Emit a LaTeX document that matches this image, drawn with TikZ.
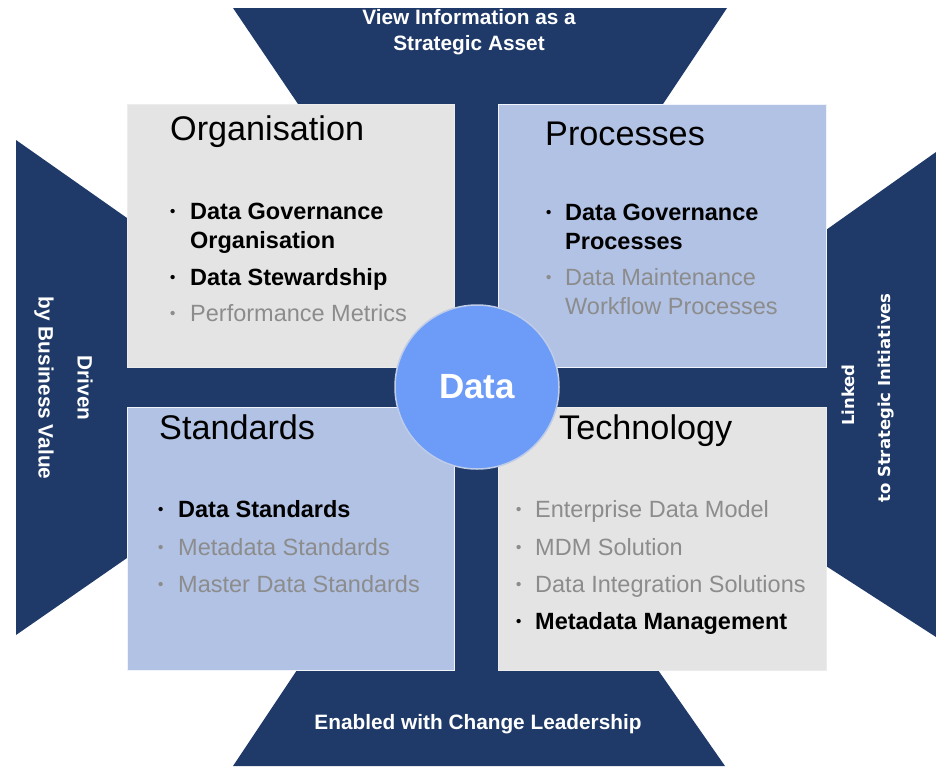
\documentclass[tikz,border=0pt]{standalone}
\usepackage{fontspec}
\setmainfont{Liberation Sans}
\newfontfamily\wideface{DejaVu Sans}
\usepackage{xcolor}
\usepackage{tikz}

\definecolor{navyblue}{RGB}{31,58,104}
\definecolor{boxgray}{RGB}{228,228,228}
\definecolor{boxblue}{RGB}{178,194,228}
\definecolor{textgray}{RGB}{140,140,140}
\definecolor{datablue}{RGB}{108,156,248}
\definecolor{dataedge}{RGB}{190,204,232}

\tikzset{
  title/.style={anchor=base west,inner sep=0,font=\fontsize{34.2}{38}\selectfont},
  bfitem/.style={anchor=base west,inner sep=0,text=black,font=\fontsize{23.5}{29}\selectfont\bfseries},
  gritem/.style={anchor=base west,inner sep=0,text=textgray,font=\fontsize{23.5}{29}\selectfont},
  dot/.style={anchor=base west,inner sep=0,font=\fontsize{15}{18}\selectfont\bfseries,yshift=3},
  banner/.style={inner sep=0,text=white,font=\fontsize{20.8}{24}\selectfont\bfseries},
}

\begin{document}
\begin{tikzpicture}[x=1pt,y=-1pt]
\useasboundingbox (0,0) rectangle (936,766);
\begin{scope}[line join=miter]

    % dark frame: four trapezoids and the cross
    \fill[navyblue] (233,8) -- (727,8) -- (663,104) -- (826,104) -- (826,230) -- (936,152)
        -- (936,637) -- (826,566) -- (826,670) -- (658,670) -- (725,766) -- (233,766)
        -- (297,670) -- (127,670) -- (127,558) -- (16,635) -- (16,140) -- (127,218)
        -- (127,104) -- (298,104) -- cycle;

    % the four boxes
    \filldraw[fill=boxgray,draw=white!85!gray] (127,104) rectangle (454,367);
    \filldraw[fill=boxblue,draw=white!80!boxblue] (498,104) rectangle (826,367);
    \filldraw[fill=boxblue,draw=white!80!boxblue] (127,407) rectangle (454,670);
    \filldraw[fill=boxgray,draw=white!85!gray] (498,407) rectangle (826,670);

    % banners
    \node[banner,anchor=base] (topa) at (469,24) {View Information as a};
    \node[banner,anchor=base] (topb) at (469,50) {Strategic Asset};
    \node[banner,anchor=base] (bottom) at (478,729) {Enabled with Change Leadership};
    \node[banner,rotate=-90] (lefta) at (85,388) {Driven};
    \node[banner,rotate=-90] (leftb) at (44,388) {by Business Value};
    \node[banner,rotate=90,font=\wideface\fontsize{16.5}{20}\selectfont\bfseries] (righta) at (848,395) {Linked};
    \node[banner,rotate=90,font=\wideface\fontsize{16.5}{20}\selectfont\bfseries] (rightb) at (886,398) {to Strategic Initiatives};

    % Organisation
    \node[title] (org) at (170,140) {Organisation};
    \node[dot] (orgd1) at (170,219) {\textbullet};
    \node[bfitem] (org1) at (190,219) {Data Governance};
    \node[bfitem] (org1b) at (190,248) {Organisation};
    \node[dot] (orgd2) at (170,285) {\textbullet};
    \node[bfitem] (org2) at (190,285) {Data Stewardship};
    \node[dot,text=textgray] (orgd3) at (170,321) {\textbullet};
    \node[gritem] (org3) at (190,321) {Performance Metrics};

    % Processes
    \node[title] (proc) at (545,145) {Processes};
    \node[dot] (procd1) at (546,220) {\textbullet};
    \node[bfitem] (proc1) at (565,220) {Data Governance};
    \node[bfitem] (proc1b) at (565,249) {Processes};
    \node[dot,text=textgray] (procd2) at (546,285) {\textbullet};
    \node[gritem] (proc2) at (565,285) {Data Maintenance};
    \node[gritem] (proc2b) at (565,314) {Workflow Processes};

    % Standards
    \node[title] (std) at (159,439) {Standards};
    \node[dot] (stdd1) at (158,517) {\textbullet};
    \node[bfitem] (std1) at (178,517) {Data Standards};
    \node[dot,text=textgray] (stdd2) at (158,555) {\textbullet};
    \node[gritem] (std2) at (178,555) {Metadata Standards};
    \node[dot,text=textgray] (stdd3) at (158,592) {\textbullet};
    \node[gritem] (std3) at (178,592) {Master Data Standards};

    % Technology
    \node[title] (tech) at (559,439) {Technology};
    \node[dot,text=textgray] (techd1) at (516,517) {\textbullet};
    \node[gritem] (tech1) at (535,517) {Enterprise Data Model};
    \node[dot,text=textgray] (techd2) at (516,555) {\textbullet};
    \node[gritem] (tech2) at (535,555) {MDM Solution};
    \node[dot,text=textgray] (techd3) at (516,592) {\textbullet};
    \node[gritem] (tech3) at (535,592) {Data Integration Solutions};
    \node[dot] (techd4) at (516,629) {\textbullet};
    \node[bfitem] (tech4) at (535,629) {Metadata Management};

    % centre
    \node[circle,minimum size=164,inner sep=0,fill=datablue,draw=dataedge,line width=1.5,
          text=white,font=\fontsize{35}{40}\selectfont\bfseries] (data) at (477,387) {Data};
\end{scope}
\end{tikzpicture}
\end{document}
